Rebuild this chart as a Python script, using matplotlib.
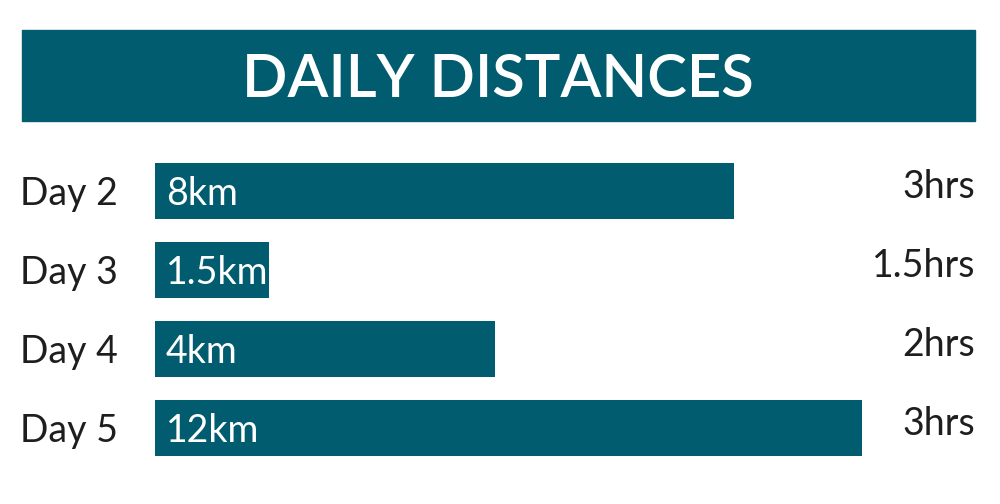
import matplotlib
matplotlib.use('Agg')
import matplotlib.pyplot as plt
from matplotlib.patches import Rectangle
from matplotlib.transforms import blended_transform_factory

# chart data
days = ['Day 2', 'Day 3', 'Day 4', 'Day 5']
km_labels = ['8km', '1.5km', '4km', '12km']
hrs_labels = ['3hrs', '1.5hrs', '2hrs', '3hrs']
# bar lengths as drawn (not linear with km in the original)
bar_len = [57.9, 11.4, 34.0, 70.7]

teal = '#005c6e'
ink = '#1e1e1e'
plt.rcParams['font.family'] = ['Lato', 'DejaVu Sans']

W, H = 1000, 504
fig = plt.figure(figsize=(W / 100, H / 100), dpi=100)
fig.patch.set_facecolor('white')

# title banner
fig.patches.append(Rectangle((22 / W, 1 - 121 / H), 953 / W, 91 / H,
                             transform=fig.transFigure, color=teal, zorder=0))
fig.text(498 / W, 1 - 97 / H, 'DAILY DISTANCES', color='white', fontsize=43,
         fontweight='semibold', ha='center', va='baseline')

ax = fig.add_axes([155 / W, (H - 467.5) / H, 820 / W, 316 / H])
ax.set_xlim(0, 82)
ax.set_ylim(3.5, -0.5)
ax.axis('off')

ypos = list(range(len(days)))
ax.barh(ypos, bar_len, height=0.71, color=teal, left=0)

lab_tr = blended_transform_factory(fig.transFigure, ax.transData)
for i in ypos:
    ax.text(20 / W, i + 0.177, days[i], transform=lab_tr, fontsize=27,
            color=ink, ha='left', va='baseline')
    ax.text(1.1, i + 0.177, km_labels[i], fontsize=27, color='white',
            ha='left', va='baseline')
    ax.text(82, i + 0.085, hrs_labels[i], fontsize=27, color=ink,
            ha='right', va='baseline')

fig.savefig('out.png', dpi=100, facecolor='white')
